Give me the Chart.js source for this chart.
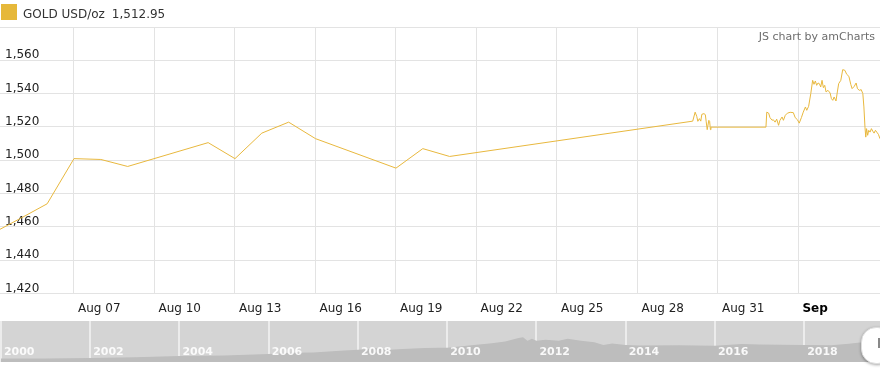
<!DOCTYPE html>
<html>
<head>
<meta charset="utf-8">
<title>GOLD USD/oz</title>
<script src="https://cdn.jsdelivr.net/npm/chart.js@4.4.1/dist/chart.umd.min.js"></script>
<style>
    html, body {
        margin: 0;
        padding: 0;
        background: #fff;
        width: 880px;
        height: 369px;
        overflow: hidden;
        font-family: "DejaVu Sans", Verdana, sans-serif;
    }
    #legend {
        position: absolute;
        left: 1px;
        top: 4px;
        height: 17px;
        z-index: 2;
        font-size: 12px;
        color: #333;
    }
    #legend .swatch {
        position: absolute;
        left: 0;
        top: 0;
        width: 16px;
        height: 16px;
        background: #e6b83a;
    }
    #legend .label {
        position: absolute;
        left: 22px;
        top: 3px;
        line-height: 14px;
        white-space: nowrap;
    }
    #legend .value { margin-left: 7px; }
    #credit {
        position: absolute;
        right: 5px;
        top: 30px;
        z-index: 2;
        font-size: 11px;
        line-height: 14px;
        color: #6d6d6d;
    }
    #gold { position: absolute; left: 0; top: 0; }
    #nav  { position: absolute; left: 0; top: 321px; background: #d4d4d4; }
    #handle {
        position: absolute;
        left: 861px;
        top: 327px;
        width: 30px;
        height: 35px;
        border-radius: 15px;
        background: #fff;
        border: 1px solid #ddd;
        box-shadow: 0 1px 3px rgba(0,0,0,0.35);
        z-index: 2;
    }
    #handle::after {
        content: "";
        position: absolute;
        left: 16px;
        top: 10px;
        width: 2px;
        height: 10px;
        background: #888;
    }
</style>
</head>
<body>
<div id="legend">
    <div class="swatch"></div>
    <div class="label">GOLD USD/oz<span class="value">1,512.95</span></div>
</div>
<div id="credit">JS chart by amCharts</div>
<canvas id="gold" width="880" height="324"></canvas>
<canvas id="nav" width="880" height="41"></canvas>
<div id="handle"></div>

<script>
/* ============================================================================
   DATA — positions on the day axis (Aug 07 = 7, Sep = 34) and USD/oz
   ============================================================================ */
const dayPos = [
    4, 5, 6, 7, 8, 9, 12, 13, 14, 15, 16, 19, 20, 21,
    30.06, 30.15, 30.21, 30.25, 30.31, 30.36, 30.40, 30.48, 30.53, 30.56,
    30.60, 30.66, 30.69, 30.72, 30.74,
    32.79, 32.82, 32.89, 32.94, 33.02, 33.06, 33.13, 33.19, 33.26, 33.31,
    33.39, 33.44, 33.51, 33.59, 33.69, 33.81, 33.88, 33.96,
    34.03, 34.11, 34.18, 34.26, 34.31, 34.38, 34.46, 34.53, 34.58, 34.63,
    34.68, 34.73, 34.78, 34.83, 34.88, 34.93, 34.98,
    35.03, 35.10, 35.18, 35.23, 35.28, 35.33, 35.40, 35.45, 35.50, 35.58,
    35.65, 35.73, 35.80, 35.88, 35.95,
    36.00, 36.08, 36.15, 36.20, 36.27, 36.34, 36.40, 36.44, 36.48, 36.51,
    36.54, 36.58, 36.62, 36.67, 36.72, 36.77, 36.82, 36.87, 36.92, 36.98, 37.04
];

const goldPrice = [
    1456.5, 1465.1, 1473.9, 1501.0, 1500.5, 1496.3, 1510.6, 1501.0, 1516.3, 1522.9, 1513.0, 1495.3, 1507.0, 1502.3,
    1523.5, 1528.9, 1526.4, 1523.4, 1525.0, 1523.5, 1527.6, 1528.0, 1527.4, 1523.5,
    1518.4, 1524.0, 1523.4, 1518.4, 1519.9,
    1519.9, 1528.9, 1528.3, 1525.6, 1524.0, 1524.4, 1522.9, 1524.7, 1521.0, 1524.0,
    1526.0, 1524.0, 1527.0, 1528.3, 1528.8, 1528.6, 1525.6, 1524.4,
    1522.3, 1525.6, 1528.9, 1532.0, 1530.0, 1532.4, 1540.0, 1548.0, 1545.6, 1547.6,
    1545.0, 1546.4, 1546.0, 1544.0, 1548.0, 1543.6, 1545.0,
    1541.0, 1542.0, 1540.4, 1537.0, 1536.0, 1538.0, 1535.6, 1541.0, 1546.0, 1548.0,
    1554.4, 1554.0, 1551.6, 1550.4, 1545.6,
    1543.0, 1544.4, 1546.4, 1543.0, 1542.0, 1542.4, 1540.0, 1532.0, 1519.9, 1513.9,
    1519.0, 1515.0, 1518.0, 1516.9, 1519.0, 1517.5, 1516.3, 1518.0, 1516.9, 1515.6, 1512.95
];

const tickDays   = [7, 10, 13, 16, 19, 22, 25, 28, 31, 34];
const tickLabels = ["Aug 07", "Aug 10", "Aug 13", "Aug 16", "Aug 19", "Aug 22", "Aug 25", "Aug 28", "Aug 31", "Sep"];

// long-term history shown in the scroller strip
const navYears = [
    2000.0, 2001.0, 2002.0, 2003.0, 2004.0, 2005.0, 2006.0, 2006.5, 2007.0, 2007.6,
    2008.0, 2008.4, 2008.7, 2009.0, 2009.5, 2009.8, 2010.0, 2010.6, 2011.0, 2011.3,
    2011.6, 2011.7, 2011.8, 2011.9, 2012.0, 2012.2, 2012.5, 2012.7, 2013.0, 2013.3,
    2013.5, 2013.7, 2014.0, 2014.3, 2015.2, 2016.0, 2016.6, 2017.0, 2018.0, 2018.6,
    2019.0, 2019.25, 2019.7
];
const navPrices = [
    250, 250, 300, 350, 430, 470, 580, 675, 700, 825,
    900, 1000, 900, 950, 1030, 1050, 1050, 1245, 1370, 1500,
    1750, 1820, 1550, 1700, 1550, 1630, 1550, 1700, 1550, 1450,
    1245, 1350, 1250, 1200, 1220, 1180, 1310, 1280, 1250, 1220,
    1330, 1420, 1500
];
const navTickYears = [2000, 2002, 2004, 2006, 2008, 2010, 2012, 2014, 2016, 2018];

/* ============================================================================
   MAIN PRICE CHART
   ============================================================================ */
const font = "'DejaVu Sans', Verdana, sans-serif";

new Chart(document.getElementById("gold"), {
    type: "line",
    data: {
        datasets: [{
            label: "GOLD USD/oz",
            data: dayPos.map((d, i) => ({ x: d, y: goldPrice[i] })),
            borderColor: "#e8b83e",
            borderWidth: 1,
            pointRadius: 0,
            tension: 0
        }]
    },
    options: {
        responsive: false,
        animation: false,
        layout: { padding: { top: 27, left: 0, right: 0, bottom: 0 } },
        plugins: {
            legend: { display: false },
            tooltip: { enabled: false }
        },
        scales: {
            x: {
                type: "linear",
                min: 4.242,
                max: 37.04,
                afterBuildTicks: axis => { axis.ticks = tickDays.map(v => ({ value: v })); },
                grid: { color: "#e3e3e3", lineWidth: 1, drawTicks: false },
                border: { display: false },
                ticks: {
                    align: "start",
                    labelOffset: 4,
                    padding: 8,
                    maxRotation: 0,
                    autoSkip: false,
                    color: ctx => ctx.tick && ctx.tick.value === 34 ? "#000" : "#222",
                    font: ctx => ({
                        family: font,
                        size: 12,
                        weight: ctx.tick && ctx.tick.value === 34 ? "bold" : "normal"
                    }),
                    callback: (v, i) => tickLabels[i]
                }
            },
            y: {
                min: 1420,
                max: 1580,
                afterFit: axis => { axis.width = 0; },
                grid: { color: "#e3e3e3", lineWidth: 1, drawTicks: false },
                border: { display: false },
                ticks: {
                    stepSize: 20,
                    mirror: true,
                    padding: 5,
                    labelOffset: -5,
                    color: "#222",
                    font: { family: font, size: 12 },
                    callback: v => v === 1580 ? "" : v.toLocaleString("en-US")
                }
            }
        }
    }
});

/* ============================================================================
   SCROLLER STRIP (2000 – 2019)
   ============================================================================ */
// year captions sit inside the strip, so they are painted after the area
const yearCaptions = {
    id: "yearCaptions",
    afterDraw(chart) {
        const { ctx, scales: { x }, chartArea } = chart;
        ctx.save();
        ctx.font = "bold 11px " + font;
        ctx.fillStyle = "rgba(255,255,255,0.9)";
        ctx.textBaseline = "middle";
        navTickYears.forEach(yr => {
            ctx.fillText(String(yr), x.getPixelForValue(yr) + 3, chartArea.bottom - 10);
        });
        ctx.restore();
    }
};

new Chart(document.getElementById("nav"), {
    type: "line",
    data: {
        datasets: [{
            data: navYears.map((yr, i) => ({ x: yr, y: navPrices[i] })),
            borderWidth: 0,
            borderColor: "rgba(0,0,0,0)",
            backgroundColor: "#bdbdbd",
            fill: "origin",
            pointRadius: 0,
            tension: 0
        }]
    },
    options: {
        responsive: false,
        animation: false,
        layout: { padding: 0 },
        plugins: {
            legend: { display: false },
            tooltip: { enabled: false }
        },
        scales: {
            x: {
                type: "linear",
                min: 1999.98,
                max: 2019.7,
                z: 1,
                afterBuildTicks: axis => { axis.ticks = navTickYears.map(v => ({ value: v })); },
                afterFit: axis => { axis.height = 0; },
                grid: { color: "rgba(255,255,255,0.55)", lineWidth: 2, drawTicks: false },
                border: { display: false },
                ticks: { display: false }
            },
            y: {
                display: false,
                min: 0,
                max: 3000
            }
        }
    },
    plugins: [yearCaptions]
});
</script>
</body>
</html>
